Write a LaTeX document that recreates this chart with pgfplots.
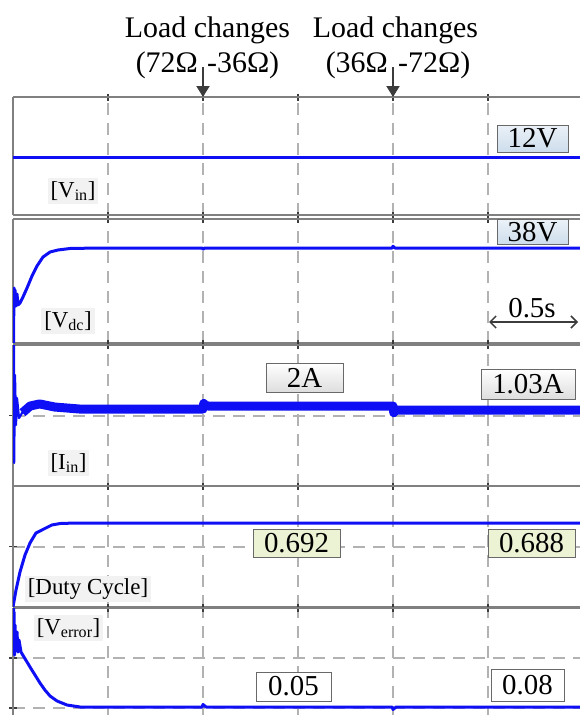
\documentclass[border=0pt]{standalone}
\usepackage{pgfplots}
\pgfplotsset{compat=1.18}
\usepackage{fontspec}
\setmainfont{Liberation Serif}
\usetikzlibrary{arrows.meta}
\definecolor{trace}{RGB}{15,15,245}
\definecolor{framegray}{RGB}{128,128,128}
\definecolor{gridgray}{RGB}{178,178,178}
\definecolor{tickdark}{RGB}{60,60,60}
\definecolor{boxblue}{RGB}{205,221,236}
\definecolor{boxgray}{RGB}{222,222,222}
\definecolor{boxyellow}{RGB}{236,242,212}
\definecolor{labelbg}{RGB}{242,242,242}
\definecolor{boxedge}{RGB}{105,105,105}
\pgfplotsset{
 panel/.style={
  scale only axis, width=567bp,
  xmin=0, xmax=2.984,
  axis x line*=box, axis y line*=left,
  xtick={0.5,1,1.5,2,2.5}, xticklabels={}, yticklabels={},
  grid=major,
  major grid style={draw=gridgray, line width=2bp, dash pattern=on 12bp off 8bp},
  axis line style={draw=framegray, line width=2.5bp},
  tick style={draw=tickdark, line width=1.5bp},
  major tick length=7bp, tick align=center,
  no markers,
 },
 sig/.style={draw=trace, line width=3bp, line join=round, mark=none},
}
\newcommand{\fs}[1]{\fontsize{#1}{#1}\selectfont}
\begin{document}
\begin{tikzpicture}
\useasboundingbox (0,0) rectangle (580bp,-715bp);
% Vin
\begin{axis}[panel, at={(13bp,-97bp)}, anchor=north west, height=118bp, ymin=0, ymax=24.8, ytick=\empty]
\addplot[sig] coordinates {(0,12) (2.984,12)};
\end{axis}
% Vdc
\begin{axis}[panel, at={(13bp,-219bp)}, anchor=north west, height=124bp, ymin=0, ymax=49.6, ytick=\empty]
\addplot[sig] coordinates {(0.003,0) (0.0045,17.2) (0.006,22) (0.0079,15.2) (0.0105,21.2) (0.0158,14.8) (0.0211,19.6) (0.0263,15.2) (0.0368,16) (0.0526,18.4) (0.0737,22) (0.1,26.8) (0.1263,30.8) (0.158,34.4) (0.195,36.4) (0.237,37.2) (0.3,37.8) (0.45,38) (0.995,38) (1.0,37.5) (1.01,38) (1.995,38) (2.0,38.7) (2.01,38) (2.984,38)};
\end{axis}
% Iin
\begin{axis}[panel, at={(13bp,-345bp)}, anchor=north west, height=141bp, ymin=0, ymax=10, ytick={5}]
\addplot[sig, line width=2.2bp] coordinates {(0.005,10) (0.006,1.63) (0.0105,7.87) (0.0158,4.33) (0.0211,6.24) (0.0316,4.82) (0.0474,5.18) (0.0895,5.67) (0.142,5.82) (0.221,5.6) (0.353,5.46)};
\addplot[sig, line width=9bp, line cap=butt] coordinates {(0.05,5.2) (0.09,5.67) (0.14,5.82) (0.22,5.6) (0.35,5.46) (0.995,5.46) (1.0,5.46) (1.004,5.85) (1.012,5.72) (1.03,5.67) (1.995,5.67) (2.0,5.67) (2.004,5.2) (2.012,5.35) (2.03,5.39) (2.984,5.39)};
\end{axis}
% Duty cycle
\begin{axis}[panel, at={(13bp,-486bp)}, anchor=north west, height=121bp, ymin=0, ymax=1, ytick={0.5}]
\addplot[sig] coordinates {(0,0) (0.0158,0.14) (0.0368,0.289) (0.0632,0.43) (0.0895,0.529) (0.121,0.612) (0.163,0.645) (0.205,0.678) (0.248,0.69) (0.326,0.694) (2.984,0.694)};
\end{axis}
% Verror
\begin{axis}[panel, at={(13bp,-608bp)}, anchor=north west, height=110bp, ymin=-0.2, ymax=2, ytick={0,1}]
\addplot[sig] coordinates {(0.003,2) (0.0045,1.36) (0.006,1.92) (0.0079,1.06) (0.0105,1.66) (0.0158,1.16) (0.0211,1.52) (0.0263,1.12) (0.0316,1.36) (0.0421,1.12) (0.0579,1.02) (0.0895,0.82) (0.1158,0.66) (0.142,0.5) (0.168,0.36) (0.195,0.24) (0.232,0.14) (0.284,0.06) (0.353,0.02) (0.995,0.02) (1.0,0.07) (1.016,0.02) (1.995,0.02) (2.0,-0.03) (2.016,0.02) (2.984,0.02)};
\end{axis}
% top annotations
\begin{scope}[every node/.style={inner sep=0pt, font=\fs{30}}]
\node[anchor=base] at (207.5bp,-37bp) {Load changes};
\node[anchor=base east] at (198bp,-72bp) {(72Ω};
\node[anchor=base west] at (207bp,-72bp) {-36Ω)};
\node[anchor=base] at (395.5bp,-37bp) {Load changes};
\node[anchor=base east] at (388bp,-72bp) {(36Ω};
\node[anchor=base west] at (398bp,-72bp) {-72Ω)};
\end{scope}
\draw[draw=tickdark, line width=2bp, -{Triangle[length=11bp, width=13bp]}] (203bp,-67bp) -- (203bp,-97bp);
\draw[draw=tickdark, line width=2bp, -{Triangle[length=11bp, width=13bp]}] (393bp,-67bp) -- (393bp,-97bp);
% value boxes
\begin{scope}[every node/.style={draw=boxedge, line width=1bp, inner sep=0pt, font=\fs{29}}]
\node[top color=boxblue!40!white, bottom color=boxblue, minimum width=71bp, minimum height=27bp] at (532.5bp,-138.5bp) {12V};
\node[top color=boxblue!40!white, bottom color=boxblue, minimum width=71bp, minimum height=25bp] at (532.5bp,-232bp) {38V};
\node[top color=white, bottom color=boxgray, minimum width=77bp, minimum height=29bp] at (304.5bp,-377.5bp) {2A};
\node[top color=white, bottom color=boxgray, minimum width=94bp, minimum height=30bp] at (528bp,-384bp) {1.03A};
\node[fill=boxyellow, minimum width=87bp, minimum height=28bp] at (296.5bp,-543bp) {0.692};
\node[fill=boxyellow, minimum width=87bp, minimum height=28bp] at (531.5bp,-543bp) {0.688};
\node[fill=white, minimum width=75bp, minimum height=29bp] at (293.5bp,-686.5bp) {0.05};
\node[fill=white, minimum width=73bp, minimum height=32bp] at (527.5bp,-685bp) {0.08};
\end{scope}
% signal labels
\begin{scope}[every node/.style={fill=labelbg, inner sep=3bp, font=\fs{23}}]
\node at (73bp,-191bp) {[V\textsubscript{in}]};
\node at (68bp,-321bp) {[V\textsubscript{dc}]};
\node at (68.5bp,-463bp) {[I\textsubscript{in}]};
\node at (88bp,-589bp) {[Duty Cycle]};
\node at (68.5bp,-628bp) {[V\textsubscript{error}]};
\end{scope}
% 0.5 s marker
\draw[draw=tickdark, line width=1.5bp, {Straight Barb[length=6bp,width=12bp]}-{Straight Barb[length=6bp,width=12bp]}] (489bp,-322bp) -- (578bp,-322bp);
\node[anchor=base, inner sep=0pt, font=\fs{29}] at (532bp,-317bp) {0.5s};
\end{tikzpicture}
\end{document}
